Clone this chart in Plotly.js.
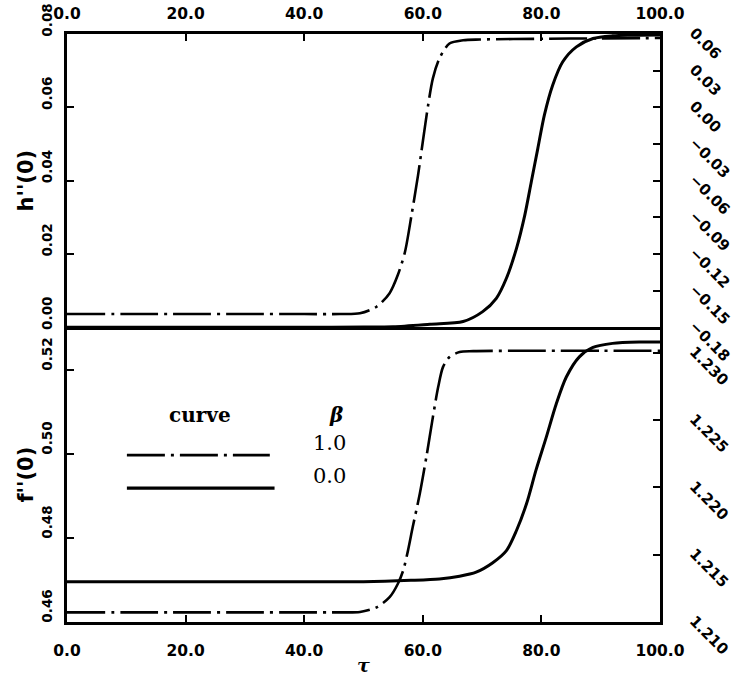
<!DOCTYPE html>
<html>
<head>
<meta charset="utf-8">
<script src="https://cdn.plot.ly/plotly-3.0.1.min.js"></script>
<style>html,body{margin:0;padding:0;background:#fff;}#chart{width:733px;height:682px;}</style>
</head>
<body>
<div id="chart"></div>
<script>
// ---- data ----
// top panel, beta = 1.0 (dash-dot), left axis h''(0)
var tauH1 = [0, 10, 20, 30, 40, 46.0, 49.4, 52.2, 54.4, 55.8, 57.0, 58.1, 59.2, 60.0, 60.9, 61.7, 62.8, 64.5, 66.8, 69.6, 80, 90, 100];
var hBeta1 = [0.0036, 0.0036, 0.0036, 0.0036, 0.0036, 0.0036, 0.0038, 0.0056, 0.0093, 0.0143, 0.0206, 0.0306, 0.0415, 0.0506, 0.0606, 0.0679, 0.0733, 0.0774, 0.0783, 0.0785, 0.0787, 0.0788, 0.0789];
// top panel, beta = 0.0 (solid), right axis
var tauH0 = [0, 10, 20, 30, 40, 50, 55, 61.2, 66.8, 70.1, 72.4, 74.1, 75.8, 77.2, 78.3, 79.4, 80.5, 81.9, 83.6, 85.9, 88.7, 92.0, 94.9, 100];
var hBeta0 = [-0.18, -0.18, -0.18, -0.18, -0.18, -0.1799, -0.1796, -0.1775, -0.1753, -0.1672, -0.1563, -0.1399, -0.1154, -0.0882, -0.0609, -0.0336, -0.0064, 0.0181, 0.0373, 0.0495, 0.0563, 0.0585, 0.0590, 0.0592];
// bottom panel, beta = 1.0 (dash-dot), left axis f''(0)
var tauF1 = [0, 10, 20, 30, 40, 46.0, 49.4, 52.2, 54.4, 55.8, 56.7, 57.5, 58.3, 59.5, 60.6, 61.7, 62.6, 63.4, 64.5, 66.2, 68.5, 80, 90, 100];
var fBeta1 = [0.4623, 0.4623, 0.4623, 0.4623, 0.4623, 0.4623, 0.4624, 0.4635, 0.4659, 0.4691, 0.4723, 0.4770, 0.4826, 0.4906, 0.4993, 0.5088, 0.5160, 0.5207, 0.5231, 0.5243, 0.5245, 0.5246, 0.5246, 0.5246];
// bottom panel, beta = 0.0 (solid), right axis
var tauF0 = [0, 10, 20, 30, 40, 50, 58, 62.8, 66.2, 69.0, 71.8, 74.1, 75.8, 77.5, 79.1, 80.8, 82.5, 84.2, 86.4, 88.7, 92.0, 96.5, 100];
var fBeta0 = [1.2130, 1.2130, 1.2130, 1.2130, 1.2130, 1.2130, 1.2131, 1.2132, 1.2134, 1.2137, 1.2144, 1.2153, 1.2168, 1.2188, 1.2213, 1.2237, 1.2262, 1.2282, 1.2297, 1.2304, 1.2307, 1.2308, 1.2308];

var xTicks = [0, 20, 40, 60, 80, 100];
var xTickText = ['0.0', '20.0', '40.0', '60.0', '80.0', '100.0'];
var legendHeader = ['curve', 'β'];
var legendBetas = ['1.0', '0.0'];

var DASHDOT = '38px,6px,3px,6px';
var xTickFont = {family: 'DejaVu Sans, sans-serif', size: 15.5, color: '#000', weight: 'bold'};
var yTickFont = {family: 'DejaVu Sans, sans-serif', size: 15, color: '#000', weight: 'bold'};
var yLeftTickFont = {family: 'DejaVu Sans, sans-serif', size: 13.5, color: '#000', weight: 'bold'};

var traces = [
  {x: tauH1, y: hBeta1, xaxis: 'x2', yaxis: 'y3', mode: 'lines', line: {color: '#000', width: 2.6, dash: DASHDOT, shape: 'spline', smoothing: 0.8}},
  {x: tauH0, y: hBeta0, xaxis: 'x2', yaxis: 'y4', mode: 'lines', line: {color: '#000', width: 3, shape: 'spline', smoothing: 0.8}},
  {x: tauF1, y: fBeta1, xaxis: 'x', yaxis: 'y', mode: 'lines', line: {color: '#000', width: 2.6, dash: DASHDOT, shape: 'spline', smoothing: 0.8}},
  {x: tauF0, y: fBeta0, xaxis: 'x', yaxis: 'y2', mode: 'lines', line: {color: '#000', width: 3, shape: 'spline', smoothing: 0.8}}
];

var split = 0.5013;
var common = {showline: true, linecolor: '#000', linewidth: 3, ticks: 'inside', ticklen: 7, tickwidth: 2, tickcolor: '#000', showgrid: false, zeroline: false};
var titleFont = {family: 'DejaVu Sans, sans-serif', size: 21, color: '#000', weight: 'bold'};

var layout = {
  width: 733, height: 682,
  margin: {l: 67, r: 72.5, t: 33.5, b: 60},
  paper_bgcolor: '#fff', plot_bgcolor: '#fff',
  showlegend: false,
  xaxis: Object.assign({}, common, {domain: [0, 1], anchor: 'y', range: [0, 100], tickvals: xTicks, ticktext: xTickText, ticklabelstandoff: 12, tickfont: xTickFont,
    title: {text: '<i>τ</i>', font: {family: 'DejaVu Serif, serif', size: 19, color: '#000', weight: 'bold'}, standoff: 1}}),
  xaxis2: Object.assign({}, common, {domain: [0, 1], anchor: 'y3', side: 'top', matches: 'x', range: [0, 100], tickvals: xTicks, ticktext: xTickText, mirror: true, ticklabelstandoff: 6, tickfont: xTickFont}),
  yaxis: Object.assign({}, common, {domain: [0, split], anchor: 'x', range: [0.46, 0.5302], dtick: 0.02, tick0: 0.46, tickformat: '.2f', tickangle: -90, ticklabelshift: -14, ticklabelstandoff: 7, tickfont: yLeftTickFont,
    title: {text: "f''(0)", font: titleFont, standoff: 0}}),
  yaxis2: Object.assign({}, common, {domain: [0, split], anchor: 'x', overlaying: 'y', side: 'right', range: [1.21, 1.2319], dtick: 0.005, tick0: 1.21, tickformat: '.3f', tickangle: 45, ticklabelshift: -3, ticklabelstandoff: 28, tickfont: yTickFont}),
  yaxis3: Object.assign({}, common, {domain: [split, 1], anchor: 'x2', range: [0, 0.08], dtick: 0.02, tick0: 0, tickformat: '.2f', tickangle: -90, ticklabelshift: -12, ticklabelstandoff: 7, tickfont: yLeftTickFont,
    title: {text: "h''(0)", font: titleFont, standoff: 0}}),
  yaxis4: Object.assign({}, common, {domain: [split, 1], anchor: 'x2', overlaying: 'y3', side: 'right', range: [-0.18, 0.06], dtick: 0.03, tick0: -0.18, tickformat: '.2f', tickangle: 45, ticklabelshift: -3, ticklabelstandoff: 28, tickfont: yTickFont}),
  shapes: [
    {type: 'line', xref: 'paper', yref: 'paper', x0: 0.101, x1: 0.342, y0: 0.2838, y1: 0.2838, line: {color: '#000', width: 2.6, dash: DASHDOT}},
    {type: 'line', xref: 'paper', yref: 'paper', x0: 0.101, x1: 0.350, y0: 0.2277, y1: 0.2277, line: {color: '#000', width: 3.2}}
  ],
  annotations: [
    {xref: 'paper', yref: 'paper', x: 0.1685, xanchor: 'left', y: 0.3517, text: legendHeader[0], showarrow: false, font: {family: 'DejaVu Serif, serif', size: 20, color: '#000', weight: 'bold'}},
    {xref: 'paper', yref: 'paper', x: 0.4532, y: 0.3517, text: '<i>' + legendHeader[1] + '</i>', showarrow: false, font: {family: 'DejaVu Serif, serif', size: 20, color: '#000', weight: 'bold'}},
    {xref: 'paper', yref: 'paper', x: 0.4431, y: 0.2804, text: legendBetas[0], showarrow: false, font: {family: 'DejaVu Serif, serif', size: 21, color: '#000'}},
    {xref: 'paper', yref: 'paper', x: 0.4431, y: 0.2243, text: legendBetas[1], showarrow: false, font: {family: 'DejaVu Serif, serif', size: 21, color: '#000'}}
  ]
};

Plotly.newPlot('chart', traces, layout, {displayModeBar: false, staticPlot: true});
</script>
</body>
</html>
